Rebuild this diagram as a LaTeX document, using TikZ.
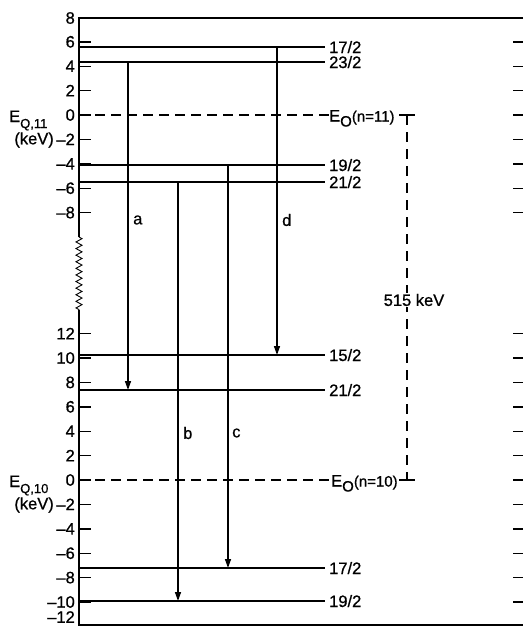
\documentclass[tikz,border=0pt]{standalone}
\usepackage{fontspec}
\setmainfont{Liberation Sans}[FakeBold=0.8]
\usetikzlibrary{arrows.meta,decorations.pathmorphing}
\begin{document}
\begin{tikzpicture}[x=1pt,y=-1pt,
  every node/.style={font=\fontsize{16.5}{20}\selectfont, inner sep=0pt},
  frame/.style={line width=1.4pt},
  level/.style={line width=1.4pt},
  zero/.style={line width=1.4pt, dash pattern=on 10pt off 6pt},
  bracket/.style={line width=1.3pt, dash pattern=on 10pt off 7pt},
  trans/.style={line width=1.4pt, -{Triangle[width=6pt,length=9pt]}},
  tickmark/.style={line width=1.4pt},
  lvl/.style={anchor=base west},
  num/.style={anchor=east},
]
\useasboundingbox (0,0) rectangle (523,627);

% frame
\coordinate (TL) at (79,18);
\coordinate (TR) at (523,18);
\coordinate (BL) at (79,625);
\coordinate (BR) at (523,625);
\coordinate (Z1) at (79,237);
\coordinate (Z2) at (79,310);
\draw[frame] (TR) -- (TL) -- (Z1);
\draw[line width=0.9pt, decorate, decoration={zigzag,segment length=6.6pt,amplitude=3pt}] (Z1) -- (Z2);
\draw[frame] (Z2) -- (BL) -- (BR);

% upper scale
\node[num] (u8) at (75,18) {8};
\foreach \v/\t [count=\i] in {6/6,4/4,2/2,0/0,-2/\textendash2,-4/\textendash4,-6/\textendash6,-8/\textendash8} {
  \pgfmathsetmacro\yy{115-12.2*\v}
  \draw[tickmark] (79,\yy) -- (91,\yy);
  \draw[tickmark] (513,\yy) -- (523,\yy);
  \node[num] (ut\i) at (75,\yy) {\t};
}
% lower scale
\foreach \v/\t [count=\i] in {12/12,10/10,8/8,6/6,4/4,2/2,0/0,-2/\textendash2,-4/\textendash4,-6/\textendash6,-8/\textendash8,-10/\textendash10} {
  \pgfmathsetmacro\yy{480-12.2*\v}
  \draw[tickmark] (79,\yy) -- (91,\yy);
  \draw[tickmark] (513,\yy) -- (523,\yy);
  \node[num] (lt\i) at (75,\yy) {\t};
}
\node[num] (l12) at (75,617) {\textendash12};

% axis titles
\node[anchor=base west] (EQ11) at (9,122) {E\raisebox{-6pt}{\fontsize{13}{15}\selectfont Q,11}};
\node[anchor=east] (kev11) at (54,140) {(keV)};
\node[anchor=base west] (EQ10) at (9,487) {E\raisebox{-6pt}{\fontsize{13}{15}\selectfont Q,10}};
\node[anchor=east] (kev10) at (54,505) {(keV)};

% zero lines
\node[lvl] (E11) at (329,121.5) {E\raisebox{-5pt}{\fontsize{15}{17}\selectfont O}{\fontsize{15}{17}\selectfont(n=11)}};
\node[lvl] (E10) at (331,486.5) {E\raisebox{-5pt}{\fontsize{15}{17}\selectfont O}{\fontsize{15}{17}\selectfont(n=10)}};
\draw[zero] (79,115) -- (E11.west |- 0,115);
\draw[zero] (79,480) -- (E10.west |- 0,480);

% levels
\foreach \y/\t/\n in {47/17\slash 2/A, 62/23\slash 2/B, 165/19\slash 2/C, 182/21\slash 2/D,
                      355/15\slash 2/F, 390/21\slash 2/G, 568/17\slash 2/H, 601/19\slash 2/I} {
  \pgfmathsetmacro\yb{\y+6}
  \node[lvl] (lab\n) at (329,\yb) {\t};
  \coordinate (s\n) at (79,\y);
  \draw[level] (s\n) -- (325,\y);
}

% transitions
\coordinate (aS) at (128,62);  \coordinate (aE) at (128,390);
\coordinate (bS) at (178,182); \coordinate (bE) at (178,601);
\coordinate (cS) at (228,165); \coordinate (cE) at (228,568);
\coordinate (dS) at (277,47);  \coordinate (dE) at (277,355);
\draw[trans] (aS) -- (aE);
\draw[trans] (bS) -- (bE);
\draw[trans] (cS) -- (cE);
\draw[trans] (dS) -- (dE);
\node[anchor=west] (la) at (133,220) {a};
\node[anchor=west] (ld) at (282,220) {d};
\node[anchor=west] (lb) at (183,433) {b};
\node[anchor=west] (lc) at (232,433) {c};

% 515 keV bracket
\coordinate (kT) at (407,115);
\coordinate (kB) at (407,480);
\draw[line width=1.3pt] (399,115) -- (415,115);
\draw[line width=1.3pt] (399,480) -- (415,480);
\draw[bracket] (kT) -- (kB);
\node[fill=white, inner sep=1pt] (k515) at (414,300) {515 keV};
\end{tikzpicture}
\end{document}
